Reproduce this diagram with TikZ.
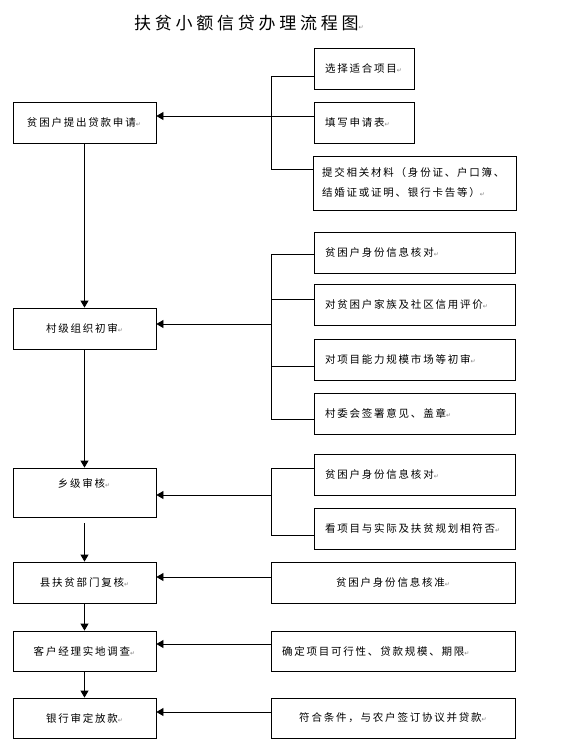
\documentclass[tikz,border=0pt]{standalone}
\usepackage{fontspec}
\usetikzlibrary{arrows.meta}
\newfontfamily\cjk[LetterSpace=17]{Noto Sans CJK SC}
\newfontfamily\cjktitle[LetterSpace=22]{Noto Sans CJK SC}
\newfontfamily\retfont{DejaVu Sans}
\newcommand\ret{{\retfont\fontsize{6}{6}\selectfont\textcolor{gray}{↵}}}
\tikzset{
  box/.style={draw, line width=.8pt, inner ysep=0pt, font=\cjk\fontsize{10.5}{20}\selectfont},
  midbox/.style={box, align=center, inner xsep=0pt},
  leftbox/.style={box, align=left},
  link/.style={line width=.8pt},
  arr/.style={line width=.8pt, -{Triangle[length=7pt,width=8pt]}}
}

\begin{document}
\begin{tikzpicture}[x=1pt, y=-1pt]

   \fill[white] (0,0) rectangle (570,752);
   \useasboundingbox (0,0) rectangle (570,752);

   % Title
   \node[anchor=west, inner sep=0pt, font=\cjktitle\fontsize{17}{17}\selectfont] (title) at (134,23) {扶贫小额信贷办理流程图\ret};

   % Main steps on the left
   \node[leftbox, text width=115pt, inner xsep=14pt, minimum height=41pt] (apply) at (84.5,122.5) {贫困户提出贷款申请\ret};
   \node[midbox, text width=143pt, minimum height=41pt] (check) at (84.5,328.5) {村级组织初审\ret};
   \node[draw, line width=.8pt, minimum width=143pt, minimum height=49pt, inner sep=0pt] (town) at (84.5,492.5) {};
   \node[font=\cjk\fontsize{10.5}{10.5}\selectfont, inner sep=0pt] (townlbl) at (84,483) {乡级审核\ret};
   \node[midbox, text width=143pt, minimum height=41pt] (county) at (84.5,582.5) {县扶贫部门复核\ret};
   \node[midbox, text width=143pt, minimum height=40pt] (survey) at (84.5,651) {客户经理实地调查\ret};
   \node[midbox, text width=143pt, minimum height=40pt] (bank) at (84.5,718) {银行审定放款\ret};

   % Items for the application
   \node[leftbox, text width=78pt, inner xsep=11pt, minimum height=41pt] (pick) at (364,68.5) {选择适合项目\ret};
   \node[leftbox, text width=78pt, inner xsep=11pt, minimum height=41pt] (form) at (364,122.5) {填写申请表\ret};
   \node[leftbox, text width=185pt, inner xsep=9pt, minimum height=54pt] (docs) at (414.5,183) {提交相关材料（身份证、户口簿、\\结婚证或证明、银行卡告等）\ret};

   % Items for the village check
   \node[leftbox, text width=179pt, inner xsep=11pt, minimum height=41pt] (vid) at (414.5,252.5) {贫困户身份信息核对\ret};
   \node[leftbox, text width=179pt, inner xsep=11pt, minimum height=41pt] (vcredit) at (414.5,304.5) {对贫困户家族及社区信用评价\ret};
   \node[leftbox, text width=179pt, inner xsep=11pt, minimum height=41pt] (vproj) at (414.5,359.5) {对项目能力规模市场等初审\ret};
   \node[leftbox, text width=179pt, inner xsep=11pt, minimum height=41pt] (vsign) at (414.5,413.5) {村委会签署意见、盖章\ret};

   % Items for the town check
   \node[leftbox, text width=179pt, inner xsep=11pt, minimum height=41pt] (tid) at (414.5,474.5) {贫困户身份信息核对\ret};
   \node[leftbox, text width=179pt, inner xsep=11pt, minimum height=41pt] (tplan) at (414.5,528.5) {看项目与实际及扶贫规划相符否\ret};

   % Single items
   \node[midbox, text width=244pt, minimum height=41pt] (cid) at (393,582.5) {贫困户身份信息核准\ret};
   \node[leftbox, text width=222pt, inner xsep=11pt, minimum height=40pt] (scope) at (393,651) {确定项目可行性、贷款规模、期限\ret};
   \node[midbox, text width=244pt, minimum height=40pt] (sign) at (393,718) {符合条件，与农户签订协议并贷款\ret};

   % Bracket points
   \coordinate (b1top) at (271,76);
   \coordinate (b1bot) at (271,169);
   \coordinate (b2top) at (271,254);
   \coordinate (b2bot) at (271,419);
   \coordinate (b3top) at (271,468);
   \coordinate (b3bot) at (271,535);

   % Flow down the left side
   \draw[arr] (apply.south) -- (check.north);
   \draw[arr] (check.south) -- (town.north);
   \draw[arr] ([yshift=-6pt]town.south) -- (county.north);
   \draw[arr] (county.south) -- (survey.north);
   \draw[arr] (survey.south) -- (bank.north);

   % First bracket
   \draw[link] (pick.west |- b1top) -- (b1top) -- (b1bot) -- (docs.west |- b1bot);
   \draw[arr] (form.west |- 0,116) -- (apply.east |- 0,116);

   % Second bracket
   \draw[link] (vid.west |- b2top) -- (b2top) -- (b2bot) -- (vsign.west |- b2bot);
   \draw[link] (vcredit.west |- 0,299) -- (b2top |- 0,299);
   \draw[link] (vproj.west |- 0,366) -- (b2top |- 0,366);
   \draw[arr] (b2top |- 0,324) -- (check.east |- 0,324);

   % Third bracket
   \draw[link] (tid.west |- b3top) -- (b3top) -- (b3bot) -- (tplan.west |- b3bot);
   \draw[arr] (b3top |- 0,495) -- (town.east |- 0,495);

   % Single links
   \draw[arr] (cid.west |- 0,577) -- (county.east |- 0,577);
   \draw[arr] (scope.west |- 0,644) -- (survey.east |- 0,644);
   \draw[arr] (sign.west |- 0,712) -- (bank.east |- 0,712);

\end{tikzpicture}
\end{document}
